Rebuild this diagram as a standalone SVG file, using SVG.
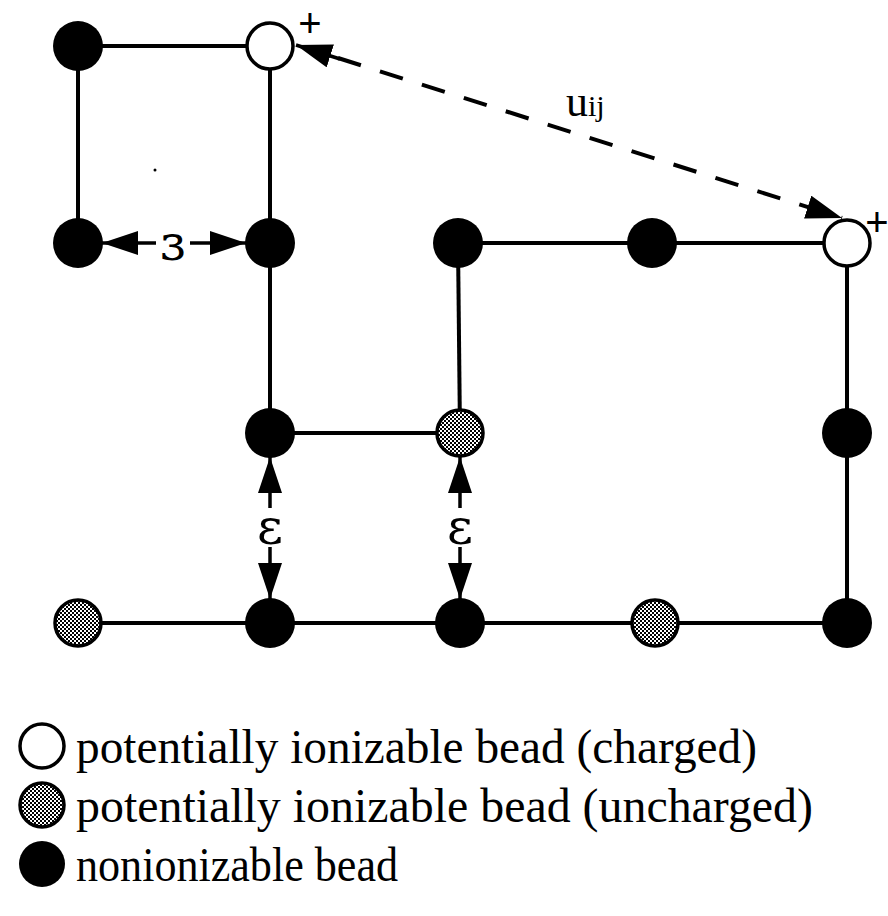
<svg xmlns="http://www.w3.org/2000/svg" width="888" height="916" viewBox="0 0 888 916">
<style>
.bond{stroke:#000;stroke-width:4;fill:none}
.blk{fill:#000}
.wht{fill:#fff;stroke:#000;stroke-width:3.5}
.gry{fill:url(#stip);stroke:#000;stroke-width:3.5}
.arr{stroke:#000;stroke-width:3.5;fill:none}
.dash{stroke:#000;stroke-width:4;fill:none;stroke-dasharray:24 20}
.lbl{font-family:"Liberation Serif","Times New Roman",serif;fill:#000}
.eps{font-family:"DejaVu Serif","Liberation Serif",serif;font-size:50px;fill:#000}
.plus{font-family:"Liberation Sans",Arial,sans-serif;font-size:40px;fill:#000}
.leg{font-family:"Liberation Serif","Times New Roman",serif;font-size:48px;fill:#000}
</style>
<defs>
<pattern id="stip" width="4" height="4" patternUnits="userSpaceOnUse">
<rect width="4" height="4" fill="#fff"/>
<rect x="0" y="0" width="2" height="2" fill="#000"/>
<rect x="2" y="2" width="2" height="2" fill="#000"/>
</pattern>
<marker id="ah" viewBox="0 0 36 24" refX="36" refY="12" markerWidth="36" markerHeight="24" markerUnits="userSpaceOnUse" orient="auto">
<path d="M0,0 L36,12 L0,24 z" fill="#000"/>
</marker>
</defs>

<g id="connectors">
<line class="bond" x1="78" y1="46" x2="270" y2="46"/>
<line class="bond" x1="78" y1="46" x2="78" y2="243"/>
<line class="bond" x1="270" y1="46" x2="270" y2="243"/>
<line class="bond" x1="270" y1="243" x2="270" y2="433"/>
<line class="bond" x1="270" y1="433" x2="460" y2="433"/>
<line class="bond" x1="460" y1="433" x2="458" y2="243"/>
<line class="bond" x1="458" y1="243" x2="847" y2="243"/>
<line class="bond" x1="847" y1="243" x2="847" y2="623"/>
<line class="bond" x1="78" y1="623" x2="847" y2="623"/>
<line class="dash" x1="338" y1="58" x2="842" y2="218" marker-end="url(#ah)"/>
<line class="arr" x1="340" y1="59" x2="296" y2="45" marker-end="url(#ah)"/>
<line class="arr" x1="156" y1="243" x2="102" y2="243" marker-end="url(#ah)"/>
<line class="arr" x1="190" y1="243" x2="246" y2="243" marker-end="url(#ah)"/>
<line class="arr" x1="270" y1="508" x2="270" y2="457" marker-end="url(#ah)"/>
<line class="arr" x1="270" y1="547" x2="270" y2="599" marker-end="url(#ah)"/>
<line class="arr" x1="460" y1="508" x2="460" y2="457" marker-end="url(#ah)"/>
<line class="arr" x1="460" y1="547" x2="460" y2="599" marker-end="url(#ah)"/>
</g>

<g id="labels">
<text class="eps" transform="translate(173,243) scale(-1,1)" text-anchor="middle" dominant-baseline="central">ε</text>
<text class="eps" x="270" y="527" text-anchor="middle" dominant-baseline="central">ε</text>
<text class="eps" x="460" y="527" text-anchor="middle" dominant-baseline="central">ε</text>
<text class="lbl" x="566" y="116"><tspan font-size="44">u</tspan><tspan font-size="30">ij</tspan></text>
<text class="plus" x="310" y="37" text-anchor="middle">+</text>
<text class="plus" x="877" y="236" text-anchor="middle">+</text>
</g>

<g id="n1"><circle class="blk" cx="78" cy="46" r="25"/></g>
<g id="n2"><circle class="wht" cx="270" cy="46" r="23"/></g>
<g id="n3"><circle class="blk" cx="78" cy="243" r="25"/></g>
<g id="n4"><circle class="blk" cx="270" cy="243" r="25"/></g>
<g id="n5"><circle class="blk" cx="458" cy="243" r="25"/></g>
<g id="n6"><circle class="blk" cx="652" cy="243" r="25"/></g>
<g id="n7"><circle class="wht" cx="847" cy="243" r="23"/></g>
<g id="n8"><circle class="blk" cx="270" cy="433" r="25"/></g>
<g id="n9"><circle class="gry" cx="460" cy="433" r="23"/></g>
<g id="n10"><circle class="blk" cx="847" cy="433" r="25"/></g>
<g id="n11"><circle class="gry" cx="78" cy="623" r="23"/></g>
<g id="n12"><circle class="blk" cx="270" cy="623" r="25"/></g>
<g id="n13"><circle class="blk" cx="460" cy="623" r="25"/></g>
<g id="n14"><circle class="gry" cx="655" cy="623" r="23"/></g>
<g id="n15"><circle class="blk" cx="847" cy="623" r="25"/></g>

<circle cx="155" cy="170" r="1.5" fill="#000"/>

<g id="legend">
<circle class="wht" cx="42" cy="746" r="22"/>
<text class="leg" x="76" y="763" textLength="681" lengthAdjust="spacingAndGlyphs">potentially ionizable bead (charged)</text>
<circle class="gry" cx="42" cy="805" r="22"/>
<text class="leg" x="76" y="822" textLength="737" lengthAdjust="spacingAndGlyphs">potentially ionizable bead (uncharged)</text>
<circle class="blk" cx="42" cy="864" r="23"/>
<text class="leg" x="76" y="881" textLength="322" lengthAdjust="spacingAndGlyphs">nonionizable bead</text>
</g>
</svg>
